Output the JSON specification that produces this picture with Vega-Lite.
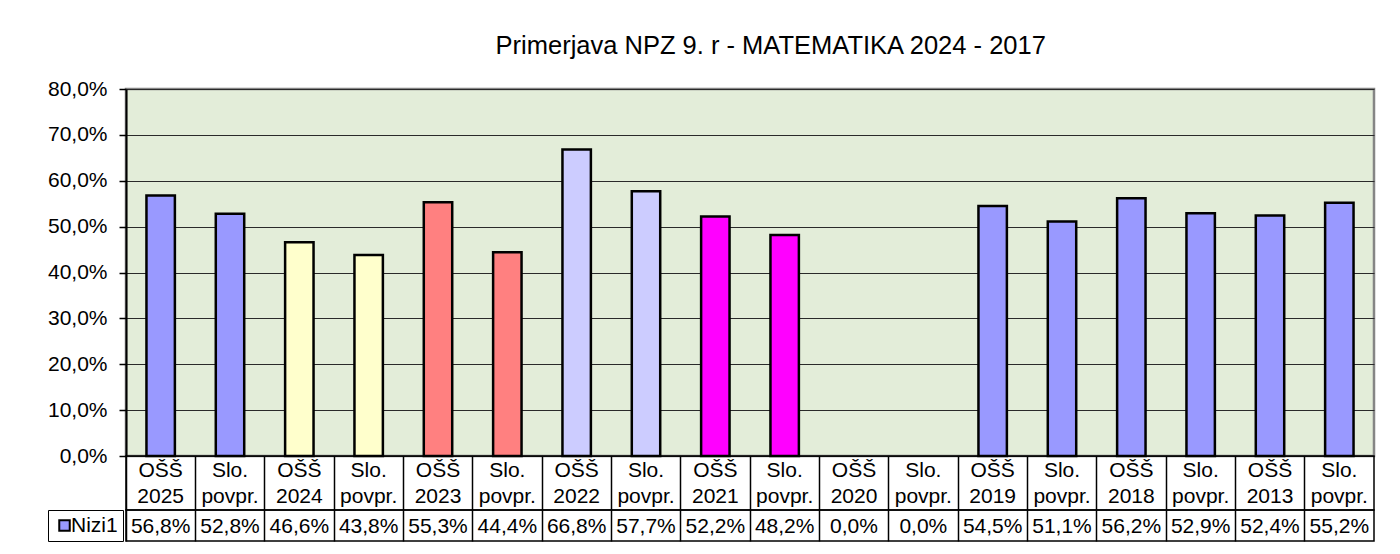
{
  "$schema": "https://vega.github.io/schema/vega-lite/v6.json",
  "background": "white",
  "padding": {"left": 46, "top": 34, "right": 20, "bottom": 5},
  "spacing": 0,
  "bounds": "flush",
  "config": {
    "font": "Liberation Sans",
    "locale": {"number": {"decimal": ",", "thousands": ".", "grouping": [3], "currency": ["", " €"]}},
    "concat": {"spacing": 0},
    "title": {"fontSize": 25.5, "fontWeight": "normal", "color": "black", "font": "Liberation Sans"}
  },
  "title": {"text": "Primerjava NPZ 9. r - MATEMATIKA 2024 - 2017", "anchor": "middle", "offset": 17, "dx": 60},
  "data": {
    "values": [
      {"id": "01", "label": "OŠŠ\n2025", "value": 0.568, "pair": "2025"},
      {"id": "02", "label": "Slo.\npovpr.", "value": 0.528, "pair": "2025"},
      {"id": "03", "label": "OŠŠ\n2024", "value": 0.466, "pair": "2024"},
      {"id": "04", "label": "Slo.\npovpr.", "value": 0.438, "pair": "2024"},
      {"id": "05", "label": "OŠŠ\n2023", "value": 0.553, "pair": "2023"},
      {"id": "06", "label": "Slo.\npovpr.", "value": 0.444, "pair": "2023"},
      {"id": "07", "label": "OŠŠ\n2022", "value": 0.668, "pair": "2022"},
      {"id": "08", "label": "Slo.\npovpr.", "value": 0.577, "pair": "2022"},
      {"id": "09", "label": "OŠŠ\n2021", "value": 0.522, "pair": "2021"},
      {"id": "10", "label": "Slo.\npovpr.", "value": 0.482, "pair": "2021"},
      {"id": "11", "label": "OŠŠ\n2020", "value": 0.0, "pair": "2020"},
      {"id": "12", "label": "Slo.\npovpr.", "value": 0.0, "pair": "2020"},
      {"id": "13", "label": "OŠŠ\n2019", "value": 0.545, "pair": "2019"},
      {"id": "14", "label": "Slo.\npovpr.", "value": 0.511, "pair": "2019"},
      {"id": "15", "label": "OŠŠ\n2018", "value": 0.562, "pair": "2018"},
      {"id": "16", "label": "Slo.\npovpr.", "value": 0.529, "pair": "2018"},
      {"id": "17", "label": "OŠŠ\n2013", "value": 0.524, "pair": "2013"},
      {"id": "18", "label": "Slo.\npovpr.", "value": 0.552, "pair": "2013"}
    ]
  },
  "resolve": {"scale": {"x": "shared", "color": "independent", "fill": "independent"}},
  "vconcat": [
    {
      "width": 1248,
      "height": 367,
      "view": {"fill": "#E3EDD9", "stroke": "#858585", "strokeWidth": 2.5},
      "transform": [{"filter": "datum.value > 0"}],
      "mark": {"type": "bar", "stroke": "black", "strokeWidth": 2.5, "width": {"band": 0.41}},
      "encoding": {
        "x": {"field": "id", "type": "nominal", "sort": "ascending",
              "scale": {"paddingInner": 0, "paddingOuter": 0}, "axis": null},
        "y": {"field": "value", "type": "quantitative",
              "scale": {"domain": [0, 0.8], "nice": false},
              "axis": {"values": [0, 0.1, 0.2, 0.3, 0.4, 0.5, 0.6, 0.7, 0.8], "format": ".1%", "title": null,
                       "labelFontSize": 21, "labelColor": "black", "labelPadding": 12,
                       "tickColor": "black", "tickSize": 7, "tickWidth": 1.5,
                       "domainColor": "black", "domainWidth": 2,
                       "grid": true, "gridColor": "#2a2a2a", "gridWidth": 1.2}},
        "color": {"field": "pair", "type": "nominal", "legend": null,
                  "scale": {"domain": ["2025", "2024", "2023", "2022", "2021", "2020", "2019", "2018", "2013"],
                            "range": ["#9999FF", "#FFFFCC", "#FF8080", "#CCCCFF", "#FF00FF", "#9999FF", "#9999FF", "#9999FF", "#9999FF"]}}
      }
    },
    {
      "width": 1248,
      "height": 54,
      "view": {"stroke": "black", "strokeWidth": 1.5},
      "mark": {"type": "text", "fontSize": 21, "color": "black", "lineBreak": "\n", "lineHeight": 26, "baseline": "middle", "dy": -12},
      "encoding": {
        "x": {"field": "id", "type": "nominal", "sort": "ascending",
              "scale": {"paddingInner": 0, "paddingOuter": 0},
              "axis": {"title": null, "labels": false, "ticks": false, "domain": false, "grid": true,
                       "bandPosition": 0, "gridColor": "black", "gridWidth": 1.5}},
        "text": {"field": "label", "type": "nominal"}
      }
    },
    {
      "width": 1248,
      "height": 31,
      "view": {"stroke": "black", "strokeWidth": 1.5},
      "layer": [
        {
          "mark": {"type": "bar", "opacity": 0},
          "encoding": {
            "x": {"field": "id", "type": "nominal", "sort": "ascending",
                  "scale": {"paddingInner": 0, "paddingOuter": 0},
                  "axis": {"title": null, "labels": false, "ticks": false, "domain": false, "grid": true,
                           "bandPosition": 0, "gridColor": "black", "gridWidth": 1.5}},
            "fill": {"datum": "Nizi1", "type": "nominal",
                     "scale": {"range": ["#9999FF"]},
                     "legend": {"title": null, "orient": "none", "legendX": -78, "legendY": 0,
                                "strokeColor": "black", "padding": 5, "symbolType": "square",
                                "symbolSize": 110, "symbolStrokeColor": "black", "symbolStrokeWidth": 2,
                                "symbolOffset": 1, "symbolOpacity": 1, "labelFontSize": 21,
                                "labelColor": "black", "labelOffset": -4}}
          }
        },
        {
          "mark": {"type": "text", "fontSize": 21, "color": "black", "baseline": "middle", "dy": 1},
          "encoding": {
            "x": {"field": "id", "type": "nominal", "sort": "ascending"},
            "text": {"field": "value", "type": "quantitative", "format": ".1%"}
          }
        }
      ]
    }
  ]
}
